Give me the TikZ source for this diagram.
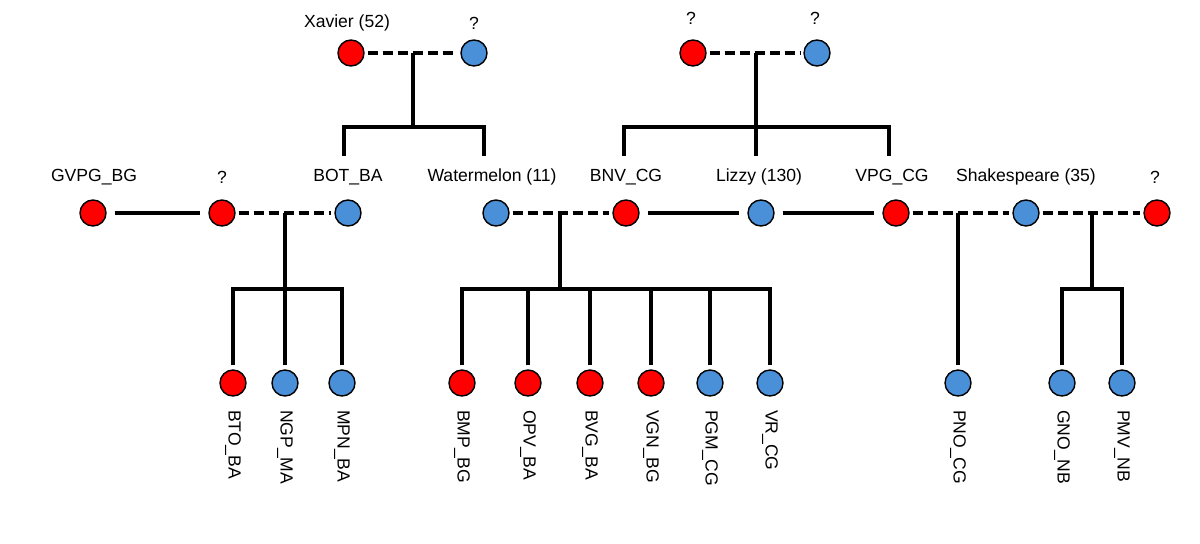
\documentclass[tikz,border=0pt]{standalone}
\usepackage{fontspec}
\setmainfont{Liberation Sans}
\usepackage{xcolor}
\usepackage{tikz}
\definecolor{femred}{RGB}{255,0,0}
\definecolor{maleblue}{RGB}{74,144,217}
\tikzset{
  fem/.style={circle,draw=black,line width=0.8pt,fill=femred,minimum size=5.2mm,inner sep=0pt},
  male/.style={circle,draw=black,line width=0.8pt,fill=maleblue,minimum size=5.2mm,inner sep=0pt},
  tie/.style={line width=2pt},
  mate/.style={line width=2pt,dash pattern=on 2mm off 1mm,shorten <=0.6mm,shorten >=0.6mm},
  partner/.style={line width=2pt,shorten <=1.6mm,shorten >=1.6mm},
  kid/.style={line width=2pt,shorten <=0.8mm},
  tag/.style={inner sep=0pt},
  vtag/.style={inner sep=0pt,rotate=-90,anchor=west}
}
\begin{document}
\begin{tikzpicture}[x=0.2mm,y=-0.2mm,font=\fontsize{10}{12}\selectfont]
      \useasboundingbox (0,0) rectangle (1200,543);
      % top generation
      \node[fem]  (xav)  at (351,53) {};
      \node[male] (xavm) at (474,53) {};
      \node[fem]  (liza) at (693,53) {};
      \node[male] (lizb) at (817,53) {};
      \node[tag] (xavl)  at (347,23) {Xavier (52)};
      \node[tag] (xavml) at (474,23) {?};
      \node[tag] (lizal) at (691,18) {?};
      \node[tag] (lizbl) at (815,18) {?};
      % middle generation
      \node[fem]  (gvpg) at (93,213) {};
      \node[fem]  (unka) at (222,213) {};
      \node[male] (bot)  at (348,213) {};
      \node[male] (wat)  at (496,213) {};
      \node[fem]  (bnv)  at (626,213) {};
      \node[male] (liz)  at (761,213) {};
      \node[fem]  (vpg)  at (896,213) {};
      \node[male] (shk)  at (1026,213) {};
      \node[fem]  (unkb) at (1157,213) {};
      \node[tag] (gvpgl) at (94,177) {GVPG\_BG};
      \node[tag] (unkal) at (222,177) {?};
      \node[tag] (botl)  at (348,177) {BOT\_BA};
      \node[tag] (watl)  at (492,177) {Watermelon (11)};
      \node[tag] (bnvl)  at (626,177) {BNV\_CG};
      \node[tag] (lizl)  at (759,177) {Lizzy (130)};
      \node[tag] (vpgl)  at (892,177) {VPG\_CG};
      \node[tag] (shkl)  at (1026,177) {Shakespeare (35)};
      \node[tag] (unkbl) at (1155,177) {?};
      % bottom generation
      \node[fem]  (bto) at (233,383) {};
      \node[male] (ngp) at (285,383) {};
      \node[male] (mpn) at (342,383) {};
      \node[fem]  (bmp) at (462,383) {};
      \node[fem]  (opv) at (528,383) {};
      \node[fem]  (bvg) at (590,383) {};
      \node[fem]  (vgn) at (651,383) {};
      \node[male] (pgm) at (710,383) {};
      \node[male] (vr)  at (770,383) {};
      \node[male] (pno) at (958,383) {};
      \node[male] (gno) at (1062,383) {};
      \node[male] (pmv) at (1122,383) {};
      \foreach \n/\t in {bto/BTO\_BA,ngp/NGP\_MA,mpn/MPN\_BA,bmp/BMP\_BG,opv/OPV\_BA,
          bvg/BVG\_BA,vgn/VGN\_BG,pgm/PGM\_CG,vr/VR\_CG,pno/PNO\_CG,gno/GNO\_NB,pmv/PMV\_NB}{
        \node[vtag] (\n l) at ([yshift=-2.6mm]\n.south) {\t};
      }
      % couples and partners
      \draw[mate] (xav) -- (xavm);
      \draw[mate] (liza) -- (lizb);
      \draw[partner] (gvpg) -- (unka);
      \draw[mate] (unka) -- (bot);
      \draw[mate] (wat) -- (bnv);
      \draw[partner] (bnv) -- (liz);
      \draw[partner] (liz) -- (vpg);
      \draw[mate] (vpg) -- (shk);
      \draw[mate] (shk) -- (unkb);
      % descent lines
      \coordinate (ja) at (413,53);
      \coordinate (ba) at (413,127);
      \coordinate (ca) at (344,156);
      \coordinate (cb) at (484,156);
      \draw[tie] (ja) -- (ba);
      \draw[tie] (ca) |- (ba);
      \draw[tie] (cb) |- (ba);
      \coordinate (jb) at (756,53);
      \coordinate (bb) at (756,127);
      \coordinate (cc) at (624,156);
      \coordinate (cd) at (756,156);
      \coordinate (ce) at (889,156);
      \draw[tie] (jb) -- (cd);
      \draw[tie] (cc) |- (bb);
      \draw[tie] (ce) |- (bb);
      \coordinate (jc) at (285,213);
      \coordinate (bc) at (285,289);
      \draw[tie] (jc) -- (bc);
      \foreach \n in {bto,ngp,mpn}
        \draw[kid] (\n) |- (bc);
      \coordinate (jd) at (560,213);
      \coordinate (bd) at (560,289);
      \draw[tie] (jd) -- (bd);
      \foreach \n in {bmp,opv,bvg,vgn,pgm,vr}
        \draw[kid] (\n) |- (bd);
      \coordinate (je) at (958,213);
      \draw[tie,shorten >=0.8mm] (je) -- (pno);
      \coordinate (jf) at (1092,213);
      \coordinate (bf) at (1092,289);
      \draw[tie] (jf) -- (bf);
      \foreach \n in {gno,pmv}
        \draw[kid] (\n) |- (bf);
\end{tikzpicture}
\end{document}
